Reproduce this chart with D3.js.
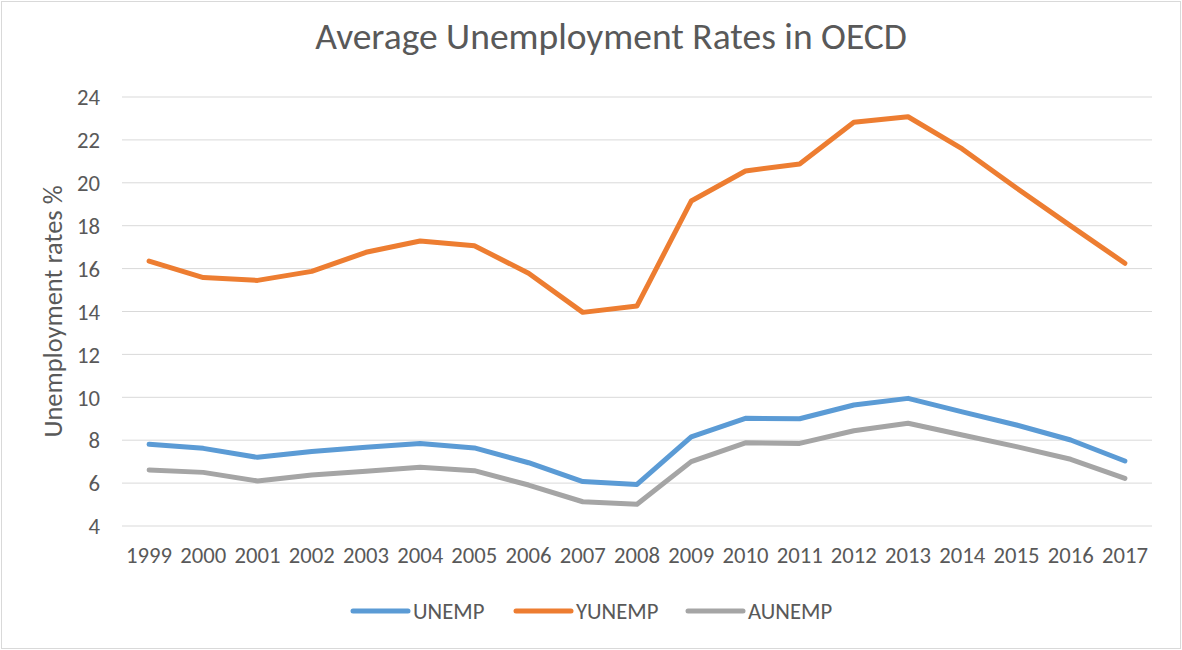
<!DOCTYPE html>
<html>
<head>
<meta charset="utf-8">
<script src="https://cdn.jsdelivr.net/npm/d3@7"></script>
<style>
  body { margin: 0; background: #fff; }
  svg text { font-family: Carlito, Calibri, 'Open Sans', sans-serif; fill: #595959; }
</style>
</head>
<body>
<div id="chart"></div>
<script>
const years = ['1999', '2000', '2001', '2002', '2003', '2004', '2005', '2006', '2007', '2008',
  '2009', '2010', '2011', '2012', '2013', '2014', '2015', '2016', '2017'];
const unemp = [7.81, 7.62, 7.2, 7.47, 7.67, 7.85, 7.64, 6.95, 6.07, 5.94,
  8.16, 9.02, 9.0, 9.64, 9.95, 9.32, 8.71, 8.01, 7.03];
const yunemp = [16.35, 15.58, 15.45, 15.87, 16.76, 17.29, 17.07, 15.78, 13.96, 14.26,
  19.15, 20.55, 20.88, 22.82, 23.08, 21.58, 19.76, 17.99, 16.25];
const aunemp = [6.61, 6.5, 6.1, 6.38, 6.55, 6.74, 6.58, 5.91, 5.13, 5.01,
  7.0, 7.88, 7.85, 8.44, 8.79, 8.24, 7.7, 7.11, 6.22];
const yTicks = [4, 6, 8, 10, 12, 14, 16, 18, 20, 22, 24];

const seriesNames = ['UNEMP', 'YUNEMP', 'AUNEMP'];
const seriesColors = ['#5B9BD5', '#ED7D31', '#A5A5A5'];
const series = [unemp, yunemp, aunemp].map((vals, i) => ({
  name: seriesNames[i],
  color: seriesColors[i],
  values: vals.map((v, j) => ({ year: years[j], value: v }))
}));

const width = 1182, height = 650;
const margin = { top: 97, right: 30, bottom: 124, left: 122 };
const font = "Carlito, Calibri, 'Open Sans', sans-serif";

const svg = d3.select('#chart').append('svg')
  .attr('width', width).attr('height', height);

svg.append('rect')
  .attr('x', 1.5).attr('y', 1.5)
  .attr('width', width - 3).attr('height', height - 3)
  .attr('fill', '#fff').attr('stroke', '#d9d9d9');

const x = d3.scaleBand().domain(years).range([margin.left, width - margin.right]);
const y = d3.scaleLinear().domain([4, 24]).range([height - margin.bottom, margin.top]);

// gridlines
svg.append('g')
  .selectAll('line').data(yTicks).join('line')
  .attr('x1', margin.left).attr('x2', width - margin.right)
  .attr('y1', d => y(d)).attr('y2', d => y(d))
  .attr('stroke', '#d9d9d9').attr('stroke-width', 1);

// y axis labels
const yAxis = svg.append('g')
  .attr('transform', 'translate(100,0)')
  .call(d3.axisLeft(y).tickValues(yTicks).tickSize(0).tickPadding(0));
yAxis.select('.domain').remove();
yAxis.selectAll('text').attr('font-size', 22.7).attr('fill', '#595959')
  .attr('dy', '0.34em')
  .style('font-family', font);

// x axis labels
const xAxis = svg.append('g')
  .attr('transform', 'translate(0,' + (height - margin.bottom) + ')')
  .call(d3.axisBottom(x).tickSize(0).tickPadding(0));
xAxis.select('.domain').remove();
xAxis.selectAll('text').attr('font-size', 22.7).attr('fill', '#595959')
  .attr('y', 37).attr('dy', 0)
  .style('font-family', font);

// title
svg.append('text')
  .attr('x', 611).attr('y', 49)
  .attr('text-anchor', 'middle')
  .attr('font-size', 37.5)
  .text('Average Unemployment Rates in OECD');

// y axis title
svg.append('text')
  .attr('transform', 'translate(62,' + y(14) + ') rotate(-90)')
  .attr('text-anchor', 'middle')
  .attr('font-size', 26.5)
  .text('Unemployment rates %');

// lines
const line = d3.line()
  .x(d => x(d.year) + x.bandwidth() / 2)
  .y(d => y(d.value));

svg.append('g')
  .selectAll('path').data(series).join('path')
  .attr('d', d => line(d.values))
  .attr('fill', 'none')
  .attr('stroke', d => d.color)
  .attr('stroke-width', 5)
  .attr('stroke-linejoin', 'round')
  .attr('stroke-linecap', 'round');

// legend
const legendX = [353, 516, 688];
const legend = svg.append('g')
  .selectAll('g').data(series).join('g')
  .attr('transform', (d, i) => 'translate(' + legendX[i] + ',611)');
legend.append('line')
  .attr('x1', 0).attr('x2', 55).attr('y1', 0).attr('y2', 0)
  .attr('stroke', d => d.color).attr('stroke-width', 5)
  .attr('stroke-linecap', 'round');
legend.append('text')
  .attr('x', 60).attr('y', 0).attr('dy', '0.34em')
  .attr('font-size', 22.7)
  .text(d => d.name);
</script>
</body>
</html>
